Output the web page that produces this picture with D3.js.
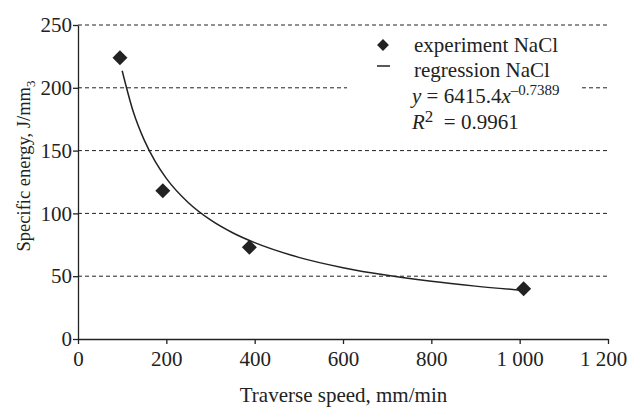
<!DOCTYPE html>
<html>
<head>
<meta charset="utf-8">
<script src="https://cdn.jsdelivr.net/npm/d3@7"></script>
<style>
  body { margin: 0; background: #fff; }
  svg { display: block; font-family: "Liberation Serif", "Times New Roman", serif; }
  svg text { font-family: "Liberation Serif", "Times New Roman", serif; }
</style>
</head>
<body>
<div id="chart"></div>
<script>
// measured points (traverse speed, specific energy)
const speed = [95, 192, 388, 1009];
const energy = [224, 118, 73, 40];

// regression curve
const regX = [100, 125, 150, 175, 200, 250, 300, 350, 400, 500, 600, 700, 800, 900, 1008];
const regY = [213.6, 181.1, 158.3, 141.2, 127.9, 108.5, 94.8, 84.6, 76.7, 65.0, 56.8, 50.7, 45.9, 42.1, 38.7];

const xTicks = [0, 200, 400, 600, 800, 1000, 1200];
const yTicks = [0, 50, 100, 150, 200, 250];

const W = 629, H = 407;
const margin = { top: 25, right: 21, bottom: 68, left: 78 };
const width = W - margin.left - margin.right,
    height = H - margin.top - margin.bottom;
const ink = "#222";

const svg = d3.select("#chart").append("svg")
    .attr("width", W)
    .attr("height", H);

const g = svg.append("g")
    .attr("transform", "translate(" + margin.left + "," + margin.top + ")");

const x = d3.scaleLinear().domain([0, 1200]).range([0, width]);
const y = d3.scaleLinear().domain([0, 250]).range([height, 0]);

// dashed grid
g.selectAll(".grid")
    .data(yTicks.filter(d => d > 0))
    .enter().append("line")
    .attr("class", "grid")
    .attr("x1", 0).attr("x2", width)
    .attr("y1", d => y(d)).attr("y2", d => y(d))
    .attr("stroke", ink)
    .attr("stroke-width", 1)
    .attr("stroke-dasharray", "4,3");

// legend background hides grid behind it
g.append("rect")
    .attr("x", 347 - margin.left)
    .attr("y", 35 - margin.top)
    .attr("width", 233)
    .attr("height", 104)
    .attr("fill", "#fff");

// axes
const xFmt = d => d >= 1000 ? Math.floor(d / 1000) + " " + String(d % 1000).padStart(3, "0") : String(d);

const xg = g.append("g")
    .attr("transform", "translate(0," + height + ")")
    .call(d3.axisBottom(x).tickValues(xTicks).tickSize(5).tickSizeOuter(0).tickFormat(xFmt));
xg.select(".domain").attr("stroke", ink).attr("stroke-width", 1.3);
xg.selectAll(".tick line").attr("stroke", ink).attr("stroke-width", 1.3);
xg.selectAll(".tick text")
    .attr("fill", ink)
    .style("font-size", "21px")
    .attr("y", 12)
    .attr("dx", d => d === 1200 ? -5 : 0);

const yg = g.append("g")
    .call(d3.axisLeft(y).tickValues(yTicks).tickSize(5).tickSizeOuter(0));
yg.select(".domain").attr("stroke", ink).attr("stroke-width", 1.3);
yg.selectAll(".tick line").attr("stroke", ink).attr("stroke-width", 1.3);
yg.selectAll(".tick text")
    .attr("fill", ink)
    .style("font-size", "21px")
    .attr("x", -6);

// regression line
const line = d3.line()
    .x(d => x(d[0]))
    .y(d => y(d[1]))
    .curve(d3.curveMonotoneX);

g.append("path")
    .datum(regX.map((v, i) => [v, regY[i]]))
    .attr("d", line)
    .attr("fill", "none")
    .attr("stroke", ink)
    .attr("stroke-width", 1.5);

// diamonds
const diamond = d3.symbol().type(d3.symbolSquare).size(112);
g.selectAll(".pt")
    .data(speed.map((v, i) => [v, energy[i]]))
    .enter().append("path")
    .attr("class", "pt")
    .attr("d", diamond)
    .attr("transform", d => "translate(" + x(d[0]) + "," + y(d[1]) + ") rotate(45)")
    .attr("fill", ink);

// axis titles
svg.append("text")
    .attr("x", 343.5)
    .attr("y", 402)
    .attr("text-anchor", "middle")
    .attr("fill", ink)
    .style("font-size", "21px")
    .text("Traverse speed, mm/min");

const yl = svg.append("text")
    .attr("transform", "translate(30,166) rotate(-90)")
    .attr("text-anchor", "middle")
    .attr("fill", ink)
    .style("font-size", "18.5px");
yl.append("tspan").text("Specific energy, J/mm");
yl.append("tspan").attr("dy", 5).style("font-size", "13px").text("3");

// legend
const leg = svg.append("g");
leg.append("path")
    .attr("d", d3.symbol().type(d3.symbolSquare).size(70))
    .attr("transform", "translate(383,45) rotate(45)")
    .attr("fill", ink);
leg.append("line")
    .attr("x1", 377).attr("x2", 390)
    .attr("y1", 66).attr("y2", 66)
    .attr("stroke", ink).attr("stroke-width", 1.5);

leg.append("text").attr("x", 414).attr("y", 52)
    .attr("fill", ink).style("font-size", "21px")
    .text("experiment NaCl");
leg.append("text").attr("x", 414).attr("y", 77)
    .attr("fill", ink).style("font-size", "21px")
    .text("regression NaCl");

const eq = leg.append("text").attr("x", 412).attr("y", 103)
    .attr("fill", ink).style("font-size", "21px");
eq.append("tspan").style("font-style", "italic").text("y");
eq.append("tspan").text(" = 6415.4");
eq.append("tspan").style("font-style", "italic").text("x");
eq.append("tspan").attr("dy", -8).style("font-size", "15px").text("\u20130.7389");

const r2 = leg.append("text").attr("x", 412).attr("y", 129)
    .attr("fill", ink).style("font-size", "21px");
r2.append("tspan").style("font-style", "italic").text("R");
r2.append("tspan").attr("dy", -7).style("font-size", "17px").text("2");
r2.append("tspan").attr("dy", 7).text("\u00a0 = 0.9961");
</script>
</body>
</html>
